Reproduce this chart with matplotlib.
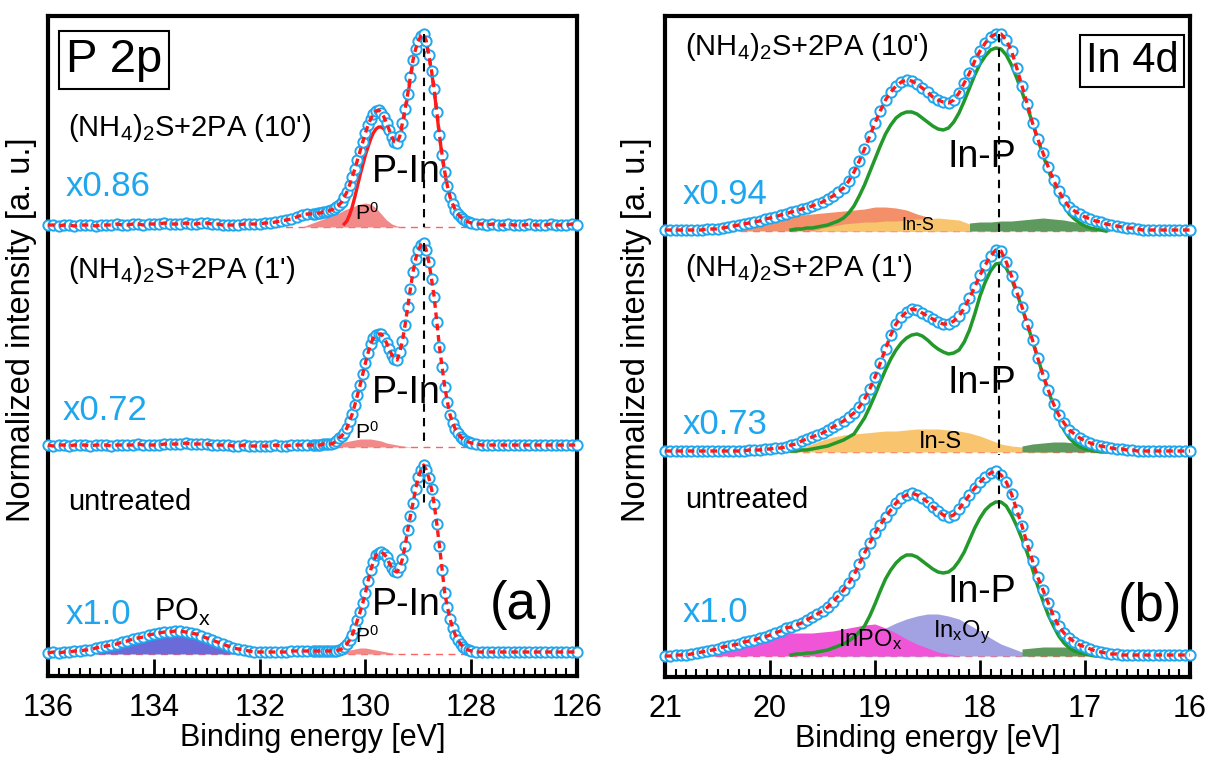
import numpy as np
import matplotlib.pyplot as plt
from matplotlib.ticker import MultipleLocator

plt.rcParams['font.family'] = ['Liberation Sans', 'DejaVu Sans']
plt.rcParams['mathtext.default'] = 'regular'

# ---- P 2p spectra (intensity in a.u.) ----
# three pieces: 136.0 -> 131.1 (0.1 eV), 131.0 -> 128.0 (0.05 eV), 127.9 -> 126.0 (0.1 eV)
p_10_lo = [2, 2, 1, 2, 2, 1, 2, 2, 2, 1,
           2, 2, 2, 3, 2, 2, 3, 3, 2, 3,
           3, 3, 4, 3, 3, 3, 4, 3, 3, 4,
           4, 3, 3, 2, 2, 2, 2, 3, 3, 3,
           3, 4, 4, 5, 6, 7, 8, 10, 12, 13]
p_10_pk = [13, 13, 14, 14, 15, 15, 16, 17, 18, 20,
           22, 25, 30, 35, 42, 50, 58, 67, 76, 85,
           94, 102, 108, 113, 116, 117, 114, 110, 104, 97,
           90, 85, 84, 91, 104, 118, 133, 150, 167, 178,
           186, 191, 193, 186, 172, 156, 138, 115, 92, 72,
           55, 41, 30, 23, 17, 13, 10, 8, 6, 5,
           4]
p_10_hi = [3, 3, 2, 3, 2, 2, 3, 2, 2, 2, 3, 2, 2, 2, 3, 2, 2, 2, 3, 2]

p_1_lo = [2, 1, 2, 2, 1, 2, 2, 2, 1, 2,
          2, 2, 1, 2, 2, 2, 2, 3, 2, 2,
          2, 2, 3, 3, 3, 3, 4, 3, 3, 3,
          3, 2, 2, 2, 2, 1, 1, 2, 1, 1,
          1, 1, 1, 2, 1, 1, 2, 2, 2, 2]
p_1_pk = [2, 2, 2, 2, 3, 3, 3, 3, 4, 6,
          9, 11, 14, 19, 26, 33, 42, 52, 62, 73,
          84, 94, 103, 109, 112, 113, 113, 109, 104, 98,
          92, 88, 87, 95, 106, 122, 140, 158, 175, 188,
          197, 202, 204, 197, 185, 168, 150, 125, 100, 80,
          60, 45, 32, 24, 18, 14, 10, 8, 6, 5,
          4]
p_1_hi = [3, 2, 2, 2, 2, 2, 2, 2, 2, 2, 2, 2, 2, 2, 2, 2, 2, 2, 2, 2]

p_un_lo = [1, 2, 1, 2, 2, 3, 3, 4, 4, 6,
           7, 8, 9, 10, 12, 13, 15, 16, 17, 19,
           20, 21, 22, 22, 23, 23, 22, 21, 20, 18,
           16, 14, 12, 10, 8, 6, 5, 4, 3, 2,
           2, 2, 2, 2, 2, 2, 3, 3, 3, 3]
p_un_pk = [3, 3, 3, 3, 3, 3, 3, 3, 3, 3,
           4, 5, 7, 10, 14, 19, 26, 34, 42, 51,
           61, 73, 84, 92, 99, 101, 102, 100, 97, 91,
           86, 83, 82, 87, 95, 108, 124, 138, 151, 165,
           177, 184, 189, 184, 176, 165, 150, 130, 108, 84,
           61, 47, 35, 26, 19, 14, 10, 7, 5, 4,
           3]
p_un_hi = [2, 2, 2, 2, 2, 2, 2, 2, 2, 2, 2, 2, 2, 2, 2, 2, 2, 2, 2, 2]

# fitted components
pin_10 = [3, 6, 12, 20, 30, 41, 52, 62, 72, 80,
          88, 94, 98, 100, 100, 98, 95, 90, 84, 81,
          80, 89, 101, 116, 131, 148, 166, 177, 185, 190,
          192, 185, 171, 155, 137, 114, 91, 71, 54, 40,
          29, 22, 16, 12, 9, 7, 5, 4, 3]                           # 130.40 -> 128.00
p0_10 = [0, 2, 4, 6, 8, 10, 12, 14, 17, 19, 21, 23, 24, 23, 19, 13, 7, 3, 1, 0]  # 131.2 -> 129.3
p0_1 = [0, 1, 3, 5, 6, 7, 8, 8, 8, 7, 6, 4, 3, 2, 1, 0.5, 0]     # 130.7 -> 129.1
p0_un = [0, 1, 2, 4, 5, 6, 6, 5, 4, 3, 2, 1, 0]                   # 130.6 -> 129.4
pox_un = [0, 3, 5, 7, 9, 11, 12, 14, 15, 17, 18, 19, 20, 21, 21, 22, 22, 21, 20, 19,
          17, 15, 13, 11, 9, 7, 5, 4, 2, 1, 0]                     # 135.1 -> 132.1

# ---- In 4d spectra, 21 -> 16 eV, 0.05 eV steps ----
e_in = np.linspace(21.0, 16.0, 101)
in_10 = [1, 1, 1, 1, 1, 1, 1, 1, 2, 2,
         2, 3, 4, 5, 6, 7, 8, 9, 10, 12,
         13, 14, 16, 17, 19, 20, 22, 23, 25, 27,
         29, 32, 35, 39, 43, 50, 59, 70, 82, 95,
         108, 120, 131, 139, 145, 149, 151, 150, 147, 143,
         139, 134, 131, 129, 128, 131, 138, 148, 158, 170,
         180, 188, 194, 197, 197, 191, 180, 163, 145, 127,
         108, 92, 78, 64, 51, 40, 31, 24, 20, 17,
         14, 12, 10, 9, 7, 6, 5, 4, 3, 3,
         2, 1, 1, 1, 1, 1, 1, 1, 1, 1,
         1]
in_1 = [1, 1, 1, 1, 1, 1, 1, 1, 1, 1,
        1, 1, 1, 1, 1, 1, 2, 2, 2, 3,
        3, 4, 4, 5, 7, 8, 11, 13, 15, 17,
        19, 22, 25, 28, 31, 35, 39, 45, 53, 63,
        75, 89, 103, 117, 128, 135, 140, 143, 142, 139,
        136, 133, 130, 128, 128, 131, 136, 144, 154, 165,
        177, 187, 196, 202, 201, 190, 176, 160, 145, 128,
        112, 94, 77, 62, 48, 37, 29, 22, 18, 14,
        11, 9, 7, 6, 5, 4, 3, 3, 2, 2,
        1, 1, 1, 1, 1, 1, 1, 1, 1, 1,
        1]
in_un = [0, 0, 1, 1, 1, 2, 3, 4, 5, 6,
         7, 9, 10, 11, 12, 14, 15, 16, 18, 19,
         21, 23, 25, 28, 29, 31, 33, 36, 39, 42,
         45, 49, 54, 60, 66, 73, 81, 92, 103, 113,
         123, 131, 139, 146, 153, 158, 161, 163, 161, 158,
         154, 149, 145, 141, 139, 141, 147, 154, 161, 168,
         174, 179, 183, 185, 181, 174, 162, 146, 130, 112,
         95, 79, 66, 53, 40, 30, 23, 18, 14, 11,
         9, 7, 5, 4, 3, 2, 2, 1, 1, 1,
         1, 1, 1, 1, 1, 1, 1, 1, 1, 1,
         1]

# In-P component, 19.8 -> 16.8 eV, 0.05 eV steps
e_inp = np.linspace(19.8, 16.8, 61)
inp_10 = [1, 2, 2, 3, 3, 4, 5, 6, 8, 10,
          13, 18, 25, 35, 46, 59, 72, 85, 97, 106,
          113, 117, 119, 119, 117, 113, 109, 105, 102, 101,
          103, 109, 118, 130, 143, 156, 167, 175, 181, 183,
          182, 176, 166, 153, 139, 124, 108, 92, 76, 61,
          47, 35, 25, 17, 12, 8, 5, 3, 2, 1, 0]
inp_1 = [1, 1, 2, 2, 3, 4, 5, 6, 8, 10,
         12, 15, 18, 26, 34, 45, 57, 70, 82, 93,
         102, 109, 114, 117, 118, 116, 112, 107, 103, 100,
         98, 99, 102, 110, 122, 138, 156, 170, 181, 188,
         189, 184, 173, 159, 144, 128, 111, 94, 77, 61,
         47, 33, 22, 14, 9, 5, 3, 2, 1, 0, 0]
inp_un = [1, 2, 2, 3, 3, 4, 5, 6, 8, 10,
          12, 15, 19, 24, 30, 40, 52, 65, 77, 86,
          93, 98, 101, 101, 99, 95, 91, 87, 84, 83,
          84, 88, 95, 104, 116, 128, 138, 146, 151, 154,
          154, 150, 141, 130, 117, 103, 87, 70, 55, 41,
          30, 20, 13, 8, 5, 3, 2, 1, 0, 0, 0]

# minor components (0.1 eV steps)
ins_a_10 = [0, 3, 6, 9, 12, 14, 16, 17, 18, 19, 20, 21, 22, 24, 24, 23, 21, 17,
            14, 10, 6, 3, 0]                                        # 20.3 -> 18.1
ins_b_10 = [0, 3, 5, 7, 8, 9, 9, 10, 10, 11, 12, 12, 13, 12, 11, 7, 4, 0]  # 19.6 -> 17.9
oth_10 = [8, 9, 9, 10, 10, 11, 12, 13, 12, 11, 9, 6, 3, 0]        # 18.1 -> 16.8
ins_1 = [0, 4, 8, 12, 15, 17, 18, 19, 20, 21, 21, 22, 23, 23, 23, 22, 21, 19,
         16, 12, 8, 6, 5, 3, 1, 0]                                  # 19.8 -> 17.3
oth_1 = [6, 8, 9, 10, 10, 9, 6, 3, 0]                              # 17.6 -> 16.8
inpox_un = [0, 3, 8, 12, 16, 19, 21, 23, 23, 23, 23, 23, 24, 25, 27, 29, 31, 32,
            28, 23, 17, 12, 8, 4, 2, 0]                             # 20.7 -> 18.2
inxoy_un = [0, 4, 9, 15, 21, 28, 33, 37, 40, 42, 42, 40, 37, 31, 25, 18, 12, 8, 4, 0]  # 19.4 -> 17.5
oth_un = [7, 8, 9, 9, 9, 8, 6, 3, 0]                               # 17.6 -> 16.8

blue = '#1EA6EE'
red = '#FF1A1A'
green = '#22992A'


def p_energy(lo, pk, hi):
    return np.concatenate([np.linspace(136.0, 131.1, len(lo)),
                           np.linspace(131.0, 128.0, len(pk)),
                           np.linspace(127.9, 126.0, len(hi))])


def spectrum(ax, e, y, off):
    y = np.array(y) + off
    ax.plot([e[0], e[-1]], [off, off], color='#FF6060', lw=1.0, dashes=(5, 4), zorder=1)
    ax.plot(e, y, 'o', ms=7.4, mfc='white', mec=blue, mew=1.4, clip_on=False, zorder=4)
    ax.plot(e, y, color=red, lw=2.4, dashes=(2, 1.4), clip_on=False, zorder=5)


def band(ax, start, stop, vals, off, color, z=2):
    e = np.linspace(start, stop, len(vals))
    ax.fill_between(e, off, off + np.array(vals), color=color, lw=0, zorder=z)


fig = plt.figure(figsize=(12.16, 7.6), dpi=100)
ax1 = fig.add_axes([48 / 1216, 1 - 676 / 760, 529 / 1216, 660 / 760])
ax2 = fig.add_axes([665 / 1216, 1 - 677 / 760, 525 / 1216, 661 / 760])

# ---------------- (a) P 2p ----------------
off_a = [449, 229, 22]
spectra_a = [(p_10_lo, p_10_pk, p_10_hi), (p_1_lo, p_1_pk, p_1_hi), (p_un_lo, p_un_pk, p_un_hi)]
peaks_a = []
for (lo, pk, hi), off in zip(spectra_a, off_a):
    spectrum(ax1, p_energy(lo, pk, hi), lo + pk + hi, off)
    peaks_a.append(max(pk))
band(ax1, 131.2, 129.3, p0_10, off_a[0], '#F28A8A')
band(ax1, 130.7, 129.1, p0_1, off_a[1], '#F28A8A')
band(ax1, 130.6, 129.4, p0_un, off_a[2], '#F28A8A')
band(ax1, 135.1, 132.1, pox_un, off_a[2], '#6A6AD8')
ax1.plot(np.linspace(130.4, 128.0, len(pin_10)), np.array(pin_10) + off_a[0],
         color=red, lw=2.4, zorder=3)

kw_v = dict(color='black', lw=1.5, dashes=(4, 3), zorder=6)
ax1.plot([128.89, 128.89], [off_a[0] + peaks_a[0], off_a[0]], **kw_v)
ax1.plot([128.89, 128.89], [off_a[1] + peaks_a[1], off_a[1]], **kw_v)
ax1.plot([128.89, 128.89], [off_a[2] + peaks_a[2], off_a[2] + peaks_a[2] - 40], **kw_v)

ax1.text(134.75, 616, 'P 2p', fontsize=34, ha='center', va='center',
         bbox=dict(boxstyle='square,pad=0.15', fc='white', ec='black', lw=1.5))
ax1.text(135.62, 548, "(NH$_4$)$_2$S+2PA (10')", fontsize=21, va='center')
ax1.text(135.62, 406, "(NH$_4$)$_2$S+2PA (1')", fontsize=21, va='center')
ax1.text(135.62, 174, 'untreated', fontsize=21, va='center')
ax1.text(135.66, 489, 'x0.86', fontsize=25, color=blue, va='center')
ax1.text(135.72, 265, 'x0.72', fontsize=25, color=blue, va='center')
ax1.text(135.66, 61, 'x1.0', fontsize=25, color=blue, va='center')
for yy in [504, 283, 71]:
    ax1.text(129.22, yy, 'P-In', fontsize=27, ha='center', va='center', zorder=7)
for yy in [463, 244, 40]:
    ax1.text(129.98, yy, 'P$^0$', fontsize=15, ha='center', va='center', zorder=7)
ax1.text(133.45, 64, 'PO$_x$', fontsize=22, ha='center', va='center', zorder=7)
ax1.text(127.04, 71, '(a)', fontsize=38, ha='center', va='center')

ax1.set_xlim(136, 126)
ax1.set_ylim(0, 660)
ax1.xaxis.set_major_locator(MultipleLocator(2))
ax1.xaxis.set_minor_locator(MultipleLocator(0.2))

# ---------------- (b) In 4d ----------------
off_b = [446, 225, 21]
band(ax2, 20.3, 18.1, ins_a_10, off_b[0], '#F3906A')
band(ax2, 19.6, 17.9, ins_b_10, off_b[0], '#F8C56E')
band(ax2, 18.1, 16.8, oth_10, off_b[0], '#5E9A5E')
band(ax2, 19.8, 17.3, ins_1, off_b[1], '#F8C56E')
band(ax2, 17.6, 16.8, oth_1, off_b[1], '#5E9A5E')
band(ax2, 19.4, 17.5, inxoy_un, off_b[2], '#A2A2E2')
band(ax2, 20.7, 18.2, inpox_un, off_b[2], '#F055D8')
band(ax2, 17.6, 16.8, oth_un, off_b[2], '#5E9A5E')
for comp, off in zip([inp_10, inp_1, inp_un], off_b):
    ax2.plot(e_inp, np.array(comp) + off, color=green, lw=2.5, zorder=3)
for spec, off in zip([in_10, in_1, in_un], off_b):
    spectrum(ax2, e_in, spec, off)

ax2.plot([17.82, 17.82], [off_b[0] + max(in_10), off_b[0] - 3], **kw_v)
ax2.plot([17.82, 17.82], [off_b[1] + max(in_1), off_b[1] - 3], **kw_v)
ax2.plot([17.82, 17.82], [off_b[2] + max(in_un), off_b[2] + max(in_un) - 40], **kw_v)

ax2.text(16.55, 616, 'In 4d', fontsize=30, ha='center', va='center',
         bbox=dict(boxstyle='square,pad=0.14', fc='white', ec='black', lw=1.5))
ax2.text(20.81, 630, "(NH$_4$)$_2$S+2PA (10')", fontsize=21, va='center')
ax2.text(20.81, 409, "(NH$_4$)$_2$S+2PA (1')", fontsize=21, va='center')
ax2.text(20.81, 177, 'untreated', fontsize=21, va='center')
ax2.text(20.83, 482, 'x0.94', fontsize=25, color=blue, va='center')
ax2.text(20.83, 253, 'x0.73', fontsize=25, color=blue, va='center')
ax2.text(20.83, 65, 'x1.0', fontsize=25, color=blue, va='center')
for yy in [520, 294, 85]:
    ax2.text(17.98, yy, 'In-P', fontsize=27, ha='center', va='center', zorder=7)
ax2.text(18.59, 452, 'In-S', fontsize=13, ha='center', va='center', zorder=7)
ax2.text(18.38, 235, 'In-S', fontsize=17, ha='center', va='center', zorder=7)
ax2.text(19.05, 37, 'InPO$_x$', fontsize=17, ha='center', va='center', zorder=7)
ax2.text(18.17, 45, 'In$_x$O$_y$', fontsize=17, ha='center', va='center', zorder=7)
ax2.text(16.38, 70, '(b)', fontsize=38, ha='center', va='center')

ax2.set_xlim(21, 16)
ax2.set_ylim(0, 661)
ax2.xaxis.set_major_locator(MultipleLocator(1))
ax2.xaxis.set_minor_locator(MultipleLocator(0.1))

for ax in (ax1, ax2):
    ax.set_yticks([])
    for s in ax.spines.values():
        s.set_linewidth(3)
    ax.tick_params(axis='x', which='major', direction='in', length=12, width=2, labelsize=22, pad=12)
    ax.tick_params(axis='x', which='minor', direction='in', length=6, width=1.5)
    ax.set_xlabel('Binding energy [eV]', fontsize=22, labelpad=0)

fig.text(22 / 1216, 1 - 330 / 760, 'Normalized intensity [a. u.]', rotation=90, fontsize=23.5,
         ha='center', va='center')
fig.text(637 / 1216, 1 - 330 / 760, 'Normalized intensity [a. u.]', rotation=90, fontsize=23.5,
         ha='center', va='center')

fig.savefig('out.png', dpi=100)
